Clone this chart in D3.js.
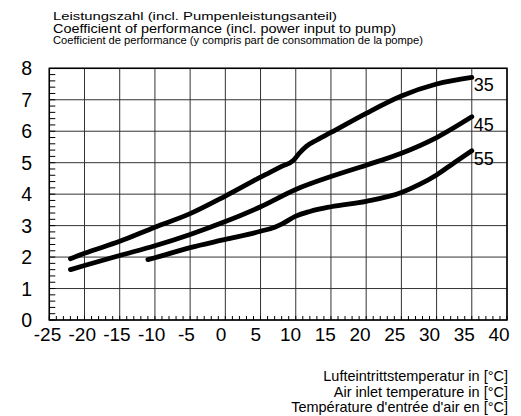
<!DOCTYPE html>
<html>
<head>
<meta charset="utf-8">
<script src="https://cdn.jsdelivr.net/npm/d3@7"></script>
<style>
    body { margin: 0; background: #fff; }
    svg { display: block; font-family: "Liberation Sans", Arial, sans-serif; }
</style>
</head>
<body>
<div id="chart"></div>
<script>
const width = 521;
const height = 416;

// 表示範囲
const margin = { top: 68.3, right: 14, bottom: 96, left: 49.3 };

// 外気温度
const temps35 = [-22, -20, -15, -10, -5, 0, 5, 8, 9.7, 10.5, 11.5, 13, 15, 20, 25, 30, 35];
const cop35 = [1.95, 2.12, 2.5, 2.95, 3.38, 3.94, 4.54, 4.88, 5.08, 5.3, 5.52, 5.72, 5.96, 6.57, 7.12, 7.5, 7.71];

const temps45 = [-22, -20, -15, -10, -5, 0, 5, 10, 15, 20, 25, 30, 35];
const cop45 = [1.6, 1.73, 2.05, 2.36, 2.72, 3.13, 3.6, 4.15, 4.56, 4.92, 5.3, 5.8, 6.46];

const temps55 = [-11, -10, -5, 0, 5, 7, 8, 10, 12, 15, 20, 25, 27.5, 30, 32.5, 35];
const cop55 = [1.92, 1.98, 2.3, 2.56, 2.82, 2.95, 3.05, 3.3, 3.45, 3.6, 3.77, 4.05, 4.3, 4.61, 5.0, 5.38];

const seriesNames = ["35", "45", "55"];

const xTicks = [-25, -20, -15, -10, -5, 0, 5, 10, 15, 20, 25, 30, 35, 40];
const yTicks = [0, 1, 2, 3, 4, 5, 6, 7, 8];

const titleLines = [
    "Leistungszahl (incl. Pumpenleistungsanteil)",
    "Coefficient of performance (incl. power input to pump)",
    "Coefficient de performance (y compris part de consommation de la pompe)"
];
const xTitleLines = [
    "Lufteintrittstemperatur in [°C]",
    "Air inlet temperature in [°C]",
    "Température d'entrée d'air en [°C]"
];

const series = [
    { name: seriesNames[0], values: temps35.map((t, i) => [t, cop35[i]]) },
    { name: seriesNames[1], values: temps45.map((t, i) => [t, cop45[i]]) },
    { name: seriesNames[2], values: temps55.map((t, i) => [t, cop55[i]]) }
];

const svg = d3.select("#chart")
    .append("svg")
    .attr("width", width)
    .attr("height", height);

const x = d3.scaleLinear()
    .domain([-25, 40])
    .range([margin.left, width - margin.right]);

const y = d3.scaleLinear()
    .domain([0, 8])
    .range([height - margin.bottom, margin.top]);

// 目盛りラベルは少し詰めて配置されている
const xLabel = d3.scaleLinear()
    .domain([-25, 40])
    .range([47.5, 499]);

// グリッド
svg.append("g")
    .selectAll("line")
    .data(xTicks)
    .enter()
    .append("line")
    .attr("x1", d => x(d))
    .attr("x2", d => x(d))
    .attr("y1", y(0))
    .attr("y2", y(8))
    .attr("stroke", "#333")
    .attr("stroke-width", 1);

svg.append("g")
    .selectAll("line")
    .data(yTicks)
    .enter()
    .append("line")
    .attr("x1", x(-25))
    .attr("x2", x(40))
    .attr("y1", d => y(d))
    .attr("y2", d => y(d))
    .attr("stroke", "#333")
    .attr("stroke-width", 1);

// 小目盛り
svg.append("g")
    .selectAll("line")
    .data(d3.range(-25, 41, 1))
    .enter()
    .append("line")
    .attr("x1", d => x(d))
    .attr("x2", d => x(d))
    .attr("y1", y(0))
    .attr("y2", y(0) - 4)
    .attr("stroke", "#000")
    .attr("stroke-width", 1);

svg.append("g")
    .selectAll("line")
    .data(d3.range(0, 40, 1).map(d => d / 5))
    .enter()
    .append("line")
    .attr("x1", x(-25))
    .attr("x2", x(-25) + 6)
    .attr("y1", d => y(d))
    .attr("y2", d => y(d))
    .attr("stroke", "#000")
    .attr("stroke-width", 1);

// 枠
svg.append("rect")
    .attr("x", x(-25))
    .attr("y", y(8))
    .attr("width", x(40) - x(-25))
    .attr("height", y(0) - y(8))
    .attr("fill", "none")
    .attr("stroke", "#000")
    .attr("stroke-width", 1.5);

// 軸ラベル
svg.append("g")
    .selectAll("text")
    .data(xTicks)
    .enter()
    .append("text")
    .attr("x", d => xLabel(d))
    .attr("y", 341)
    .attr("text-anchor", "middle")
    .attr("font-size", 19)
    .text(d => d);

svg.append("g")
    .selectAll("text")
    .data(yTicks)
    .enter()
    .append("text")
    .attr("x", 32)
    .attr("y", d => y(d) + 7)
    .attr("text-anchor", "end")
    .attr("font-size", 19.5)
    .text(d => d);

// 曲線
const line = d3.line()
    .x(d => x(d[0]))
    .y(d => y(d[1]))
    .curve(d3.curveMonotoneX);

svg.append("g")
    .selectAll("path")
    .data(series)
    .enter()
    .append("path")
    .attr("d", d => line(d.values))
    .attr("fill", "none")
    .attr("stroke", "#000")
    .attr("stroke-width", 4.8)
    .attr("stroke-linecap", "round")
    .attr("stroke-linejoin", "round");

svg.append("g")
    .selectAll("text")
    .data(series)
    .enter()
    .append("text")
    .attr("x", d => x(d.values[d.values.length - 1][0]) + 2)
    .attr("y", d => y(d.values[d.values.length - 1][1]) + 14)
    .attr("font-size", 18)
    .text(d => d.name);

// タイトル
const titleSpecs = [
    { y: 19.5, size: 11.5, len: 284 },
    { y: 32.5, size: 12, len: 343 },
    { y: 44, size: 11, len: 370 }
];

svg.append("g")
    .selectAll("text")
    .data(titleLines)
    .enter()
    .append("text")
    .attr("x", 53)
    .attr("y", (d, i) => titleSpecs[i].y)
    .attr("font-size", (d, i) => titleSpecs[i].size)
    .attr("textLength", (d, i) => titleSpecs[i].len)
    .attr("lengthAdjust", "spacingAndGlyphs")
    .text(d => d);

svg.append("g")
    .selectAll("text")
    .data(xTitleLines)
    .enter()
    .append("text")
    .attr("x", 508)
    .attr("y", (d, i) => 381 + i * 15.5)
    .attr("text-anchor", "end")
    .attr("font-size", 14.5)
    .text(d => d);
</script>
</body>
</html>
